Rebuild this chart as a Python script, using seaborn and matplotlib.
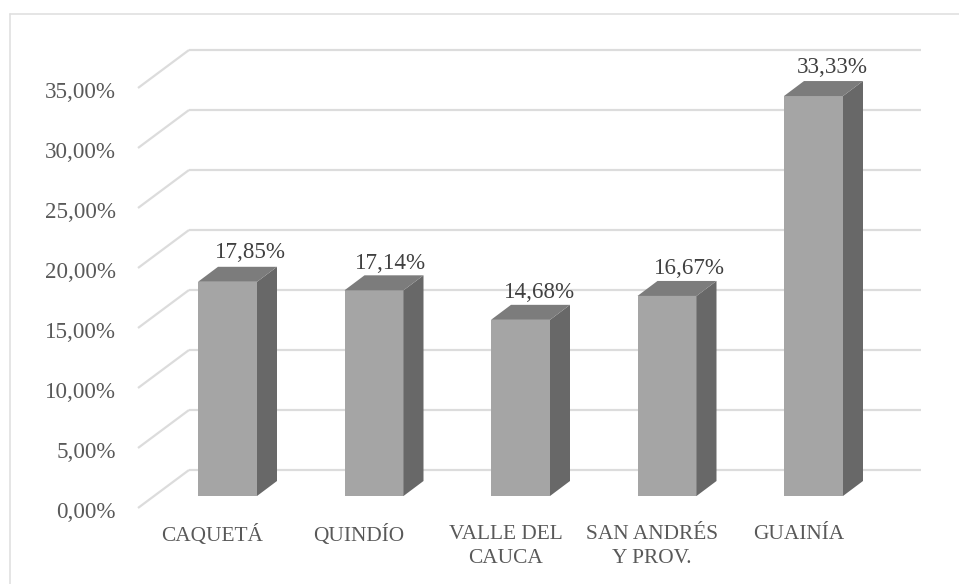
import matplotlib.pyplot as plt
import matplotlib.transforms as mtrans
from matplotlib.lines import Line2D
from matplotlib.patches import Polygon
import pandas as pd
import seaborn as sns

# data
departamentos = ['CAQUETÁ', 'QUINDÍO', 'VALLE DEL\nCAUCA', 'SAN ANDRÉS\nY PROV.', 'GUAINÍA']
porcentajes = [17.85, 17.14, 14.68, 16.67, 33.33]
yticks = [0, 5, 10, 15, 20, 25, 30, 35]

# layout, in pixels of the 959x584 image
W, H = 959, 584
X_STEP = 146.5      # distance between bars
Y_STEP = 12.0       # pixels for 1%
LEFT, RIGHT, BOTTOM, TOP = 138, 921, 496, 40
FIRST_BAR = 227.5

sns.set_style("white")
plt.rcParams['font.family'] = ['Liberation Serif', 'DejaVu Serif']

fig = plt.figure(figsize=(W / 100, H / 100), dpi=100)
ax = fig.add_axes([LEFT / W, (H - BOTTOM) / H, (RIGHT - LEFT) / W, (BOTTOM - TOP) / H])

df = pd.DataFrame({'dep': departamentos, 'pct': porcentajes})
sns.barplot(data=df, x='dep', y='pct', color='#a5a5a5', saturation=1, width=59 / X_STEP,
            linewidth=0, zorder=3, ax=ax)

ax.set_xlim((LEFT - FIRST_BAR) / X_STEP, (RIGHT - FIRST_BAR) / X_STEP)
ax.set_ylim(0, (BOTTOM - TOP) / Y_STEP)

# depth of the bars and of the floor, in data units
bar_dx, bar_dy = 20 / X_STEP, 15 / Y_STEP
wall_x = (LEFT + 51 - FIRST_BAR) / X_STEP
wall_dy = (BOTTOM - 470) / Y_STEP
front_dy = (BOTTOM - 508) / Y_STEP
x0, x1 = ax.get_xlim()

# back wall gridlines and the diagonals on the side wall
grid = dict(color='#dcdcdc', lw=1.6, zorder=1, clip_on=False, solid_capstyle='butt')
for t in yticks:
    ax.plot([x0, wall_x], [t + front_dy, t + wall_dy], **grid)
    ax.plot([wall_x, x1], [t + wall_dy, t + wall_dy], **grid)

# sides and tops of the bars, built from the seaborn bars
for p in ax.patches[:len(porcentajes)]:
    xl, xr = p.get_x(), p.get_x() + p.get_width()
    h = p.get_height()
    ax.add_patch(Polygon([(xr, 0), (xr + bar_dx, bar_dy), (xr + bar_dx, h + bar_dy), (xr, h)],
                         closed=True, fc='#686868', ec='none', zorder=3))
    ax.add_patch(Polygon([(xl, h), (xl + bar_dx, h + bar_dy), (xr + bar_dx, h + bar_dy), (xr, h)],
                         closed=True, fc='#7c7c7c', ec='none', zorder=3))

# value labels
label_dx = [23, 17, 19.5, 22, 19]
label_dy = [29, 27, 27, 27, 29]
for i, v in enumerate(porcentajes):
    ax.annotate(f'{v:.2f}%'.replace('.', ','), (i, v), xytext=(label_dx[i], label_dy[i]),
                textcoords='offset pixels', ha='center', va='center',
                fontsize=16.6, color='#404040', annotation_clip=False)

# axes
ax.set_xlabel('')
ax.set_ylabel('')
ax.set_yticks(yticks)
ax.set_yticklabels([f'{t},00%' for t in yticks], fontsize=16.6, color='#595959')
ax.tick_params(axis='y', length=0, pad=15.8)
ax.tick_params(axis='x', length=0, pad=21, labelsize=15.4, labelcolor='#595959')
for lab in ax.get_xticklabels():
    lab.set_linespacing(1.35)
    lab.set_transform(lab.get_transform() + mtrans.Affine2D().translate(-15, 0))
for lab in ax.get_yticklabels():
    lab.set_transform(lab.get_transform() + mtrans.Affine2D().translate(0, -13.5))
sns.despine(ax=ax, left=True, bottom=True)

# chart frame, it runs off the image at the right and bottom
frame = dict(color='#e0e0e0', lw=1.2, transform=fig.transFigure)
fig.add_artist(Line2D([10 / W, 10 / W], [0, 1 - 14 / H], **frame))
fig.add_artist(Line2D([10 / W, 1], [1 - 14 / H, 1 - 14 / H], **frame))

plt.savefig('out.png', dpi=100)
